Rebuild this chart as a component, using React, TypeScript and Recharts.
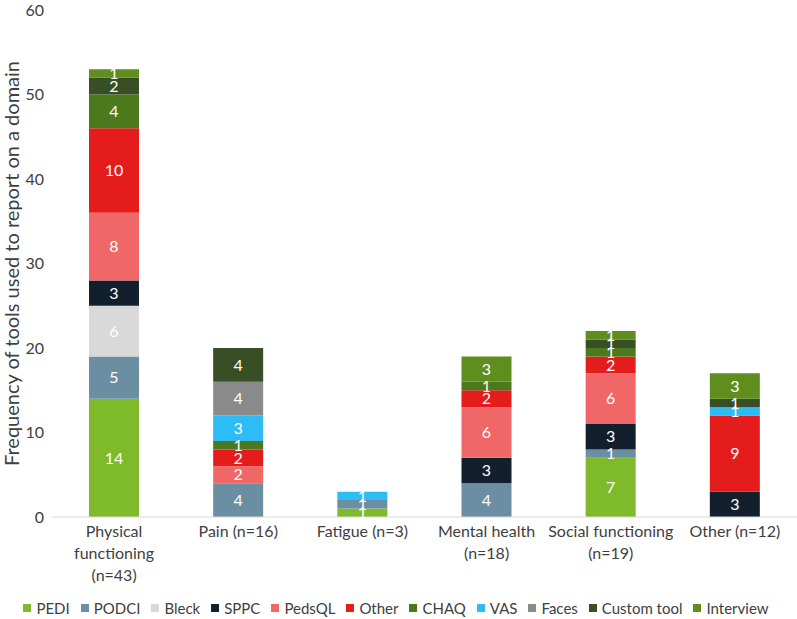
import React from 'react';
import { BarChart, Bar, XAxis, YAxis, Legend, LabelList } from 'recharts';

const categories = [
  'Physical\nfunctioning\n(n=43)',
  'Pain (n=16)',
  'Fatigue (n=3)',
  'Mental health\n(n=18)',
  'Social functioning\n(n=19)',
  'Other (n=12)',
];

const pedi = [14, 0, 1, 0, 7, 0];
const podci = [5, 4, 1, 4, 1, 0];
const bleck = [6, 0, 0, 0, 0, 0];
const sppc = [3, 0, 0, 3, 3, 3];
const pedsql = [8, 2, 0, 6, 6, 0];
const other = [10, 2, 0, 2, 2, 9];
const chaq = [4, 1, 0, 1, 1, 0];
const vas = [0, 3, 1, 0, 0, 1];
const faces = [0, 4, 0, 0, 0, 0];
const customTool = [2, 4, 0, 0, 1, 1];
const interview = [1, 0, 0, 3, 1, 3];

const yTicks = [0, 10, 20, 30, 40, 50, 60];

const series = [
  { key: 'PEDI', values: pedi, color: '#7fba2a' },
  { key: 'PODCI', values: podci, color: '#6b8ea3' },
  { key: 'Bleck', values: bleck, color: '#d9d9d9' },
  { key: 'SPPC', values: sppc, color: '#12202e' },
  { key: 'PedsQL', values: pedsql, color: '#f06767' },
  { key: 'Other', values: other, color: '#e51c1c' },
  { key: 'CHAQ', values: chaq, color: '#4b7a1c' },
  { key: 'VAS', values: vas, color: '#2ebcf6' },
  { key: 'Faces', values: faces, color: '#8a8a8a' },
  { key: 'Custom tool', values: customTool, color: '#384e24' },
  { key: 'Interview', values: interview, color: '#5f8e1f' },
];
const order = series.map((s) => s.key);

const data = categories.map((name, i) => {
  const row: any = { name };
  series.forEach((s) => { row[s.key] = s.values[i]; });
  return row;
});

const FONT = 'Lato, "Open Sans", sans-serif';
const TEXT = '#404040';

function CategoryTick({ x, y, payload }: any) {
  const lines = String(payload.value).split('\n');
  return (
    <text x={x} y={y + 12} textAnchor="middle" fill={TEXT} fontSize={16} fontFamily={FONT}>
      {lines.map((l, i) => (
        <tspan key={i} x={x} dy={i === 0 ? 0 : 22}>{l}</tspan>
      ))}
    </text>
  );
}

// legend drawn in series order, spaced like the original
function LegendRow({ payload }: any) {
  const items = [...(payload || [])].sort((a: any, b: any) => order.indexOf(a.value) - order.indexOf(b.value));
  return (
    <div style={{ display: 'flex', justifyContent: 'center', alignItems: 'center', paddingTop: 5, paddingLeft: 6, fontFamily: FONT, fontSize: 15, color: TEXT, lineHeight: '20px' }}>
      {items.map((it: any) => (
        <span key={it.value} style={{ display: 'inline-flex', alignItems: 'center', marginRight: 11 }}>
          <span style={{ width: 8, height: 8, background: it.color, display: 'inline-block', marginRight: 5 }} />
          {it.value}
        </span>
      ))}
    </div>
  );
}

export default function App() {
  return (
    <div style={{ position: 'absolute', left: 0, top: 0, width: 797, height: 619, background: '#fff' }}>
      <BarChart
        width={797}
        height={619}
        data={data}
        margin={{ top: 10, right: 0, left: 0, bottom: 0 }}
        barSize={50}
      >
        <XAxis
          dataKey="name"
          interval={0}
          tickLine={false}
          axisLine={{ stroke: '#d9d9d9' }}
          height={76}
          tick={<CategoryTick />}
        />
        <YAxis
          width={52}
          domain={[0, 60]}
          ticks={yTicks}
          tickLine={false}
          axisLine={false}
          tick={{ fill: TEXT, fontSize: 16, fontFamily: FONT }}
          label={{
            value: 'Frequency of tools used to report on a domain',
            angle: -90,
            position: 'insideLeft',
            offset: 12,
            style: { textAnchor: 'middle', fill: TEXT, fontSize: 20, fontFamily: FONT },
          }}
        />
        <Legend verticalAlign="bottom" height={26} content={<LegendRow />} />
        {series.map((s) => (
          <Bar key={s.key} dataKey={s.key} stackId="a" fill={s.color} isAnimationActive={false}>
            <LabelList
              dataKey={s.key}
              position="center"
              fill="#fff"
              fontSize={16}
              fontFamily={FONT}
              formatter={(v: any) => (v ? v : '')}
            />
          </Bar>
        ))}
      </BarChart>
    </div>
  );
}
